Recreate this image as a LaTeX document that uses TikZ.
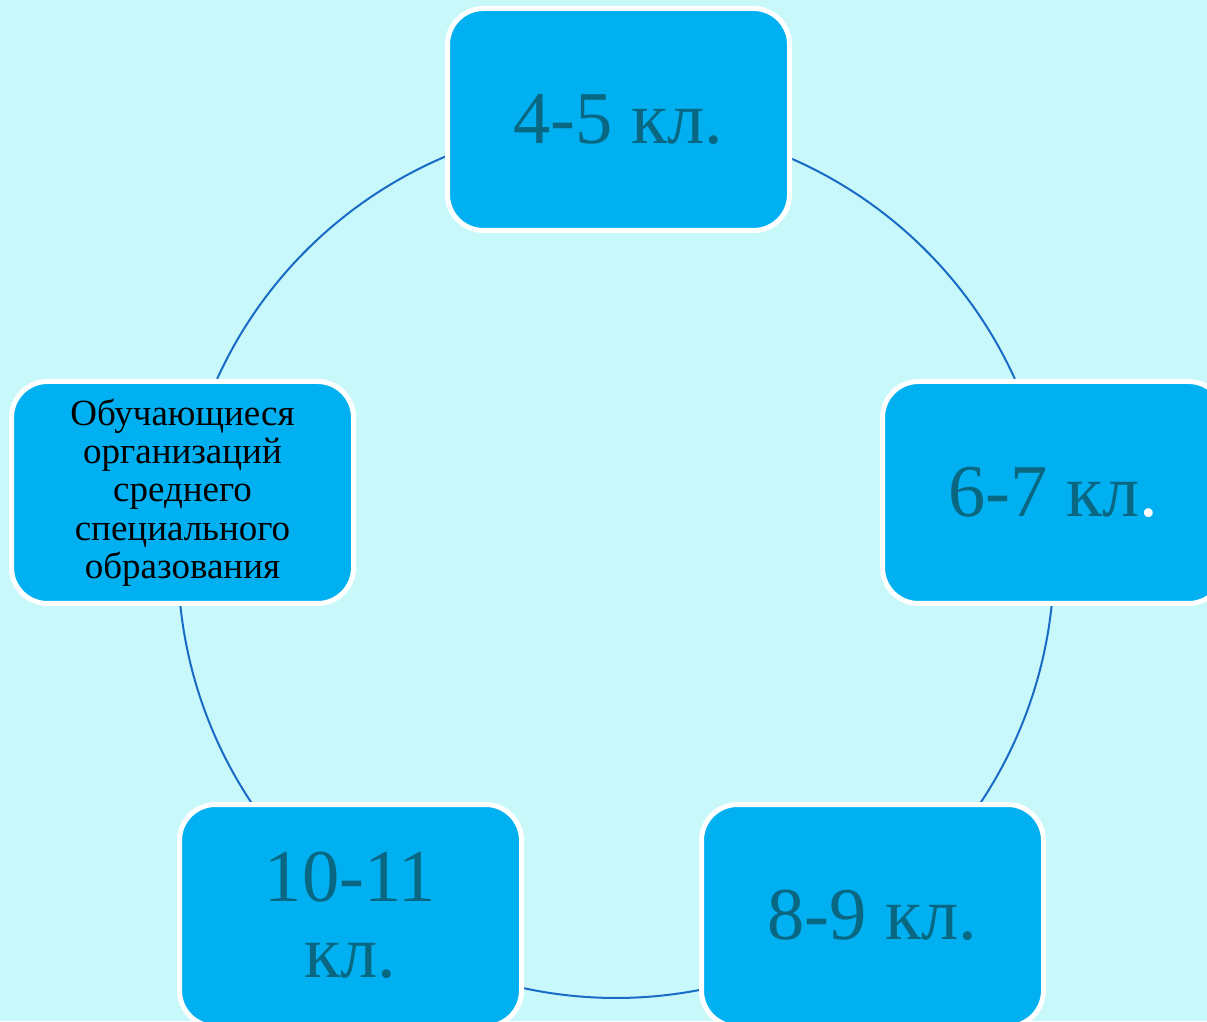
\documentclass[tikz,border=0pt]{standalone}
\usepackage{fontspec}
\setmainfont{Liberation Serif}
\usetikzlibrary{calc,backgrounds}
\definecolor{bgc}{HTML}{C8F8FA}
\definecolor{boxc}{HTML}{00B0F0}
\definecolor{txtc}{HTML}{0A6782}
\definecolor{linec}{HTML}{1A6BC6}
\newcommand\cyclearc[2]{%
  \draw[conn] let \p1=($(#1)-(c)$), \p2=($(#2)-(c)$),
    \n1={atan2(\y1,\x1)}, \n2={mod(atan2(\y1,\x1)-atan2(\y2,\x2)+720,360)}
  in ($(c)+(\n1:438pt)$) arc[start angle=\n1, delta angle=-\n2, radius=438pt];}
\begin{document}
\begin{tikzpicture}[x=1pt,y=1pt,
  stage/.style={draw=white, line width=5pt, fill=boxc, rounded corners=36pt,
    minimum width=342pt, minimum height=222pt, inner sep=0pt, align=center,
    text=txtc, font=\fontsize{74.5}{76}\selectfont},
  small/.style={text=black, font=\fontsize{37}{38.3}\selectfont},
  conn/.style={draw=linec, line width=2pt}]
\useasboundingbox (0,0) rectangle (1207,1021);
\clip (0,0) rectangle (1207,1021);
\coordinate (c) at (616,461);
\node[stage] (g45) at (618.5,901.5) {4-5 кл.};
\node[stage] (g67) at (1053.5,528.5) {6-7 кл{\color{white}.}};
\node[stage] (g89) at (872.5,105.5) {8-9 кл.};
\node[stage] (g1011) at (350.5,105.5) {10-11\\кл.};
\node[stage,small] (spo) at (182.5,528.5) {Обучающиеся\\организаций\\среднего\\специального\\образования};
\begin{scope}[on background layer]
\fill[bgc] (0,0) rectangle (1207,1021);
\cyclearc{g45}{g67}
\cyclearc{g67}{g89}
\cyclearc{g89}{g1011}
\cyclearc{g1011}{spo}
\cyclearc{spo}{g45}
\end{scope}
\end{tikzpicture}
\end{document}
